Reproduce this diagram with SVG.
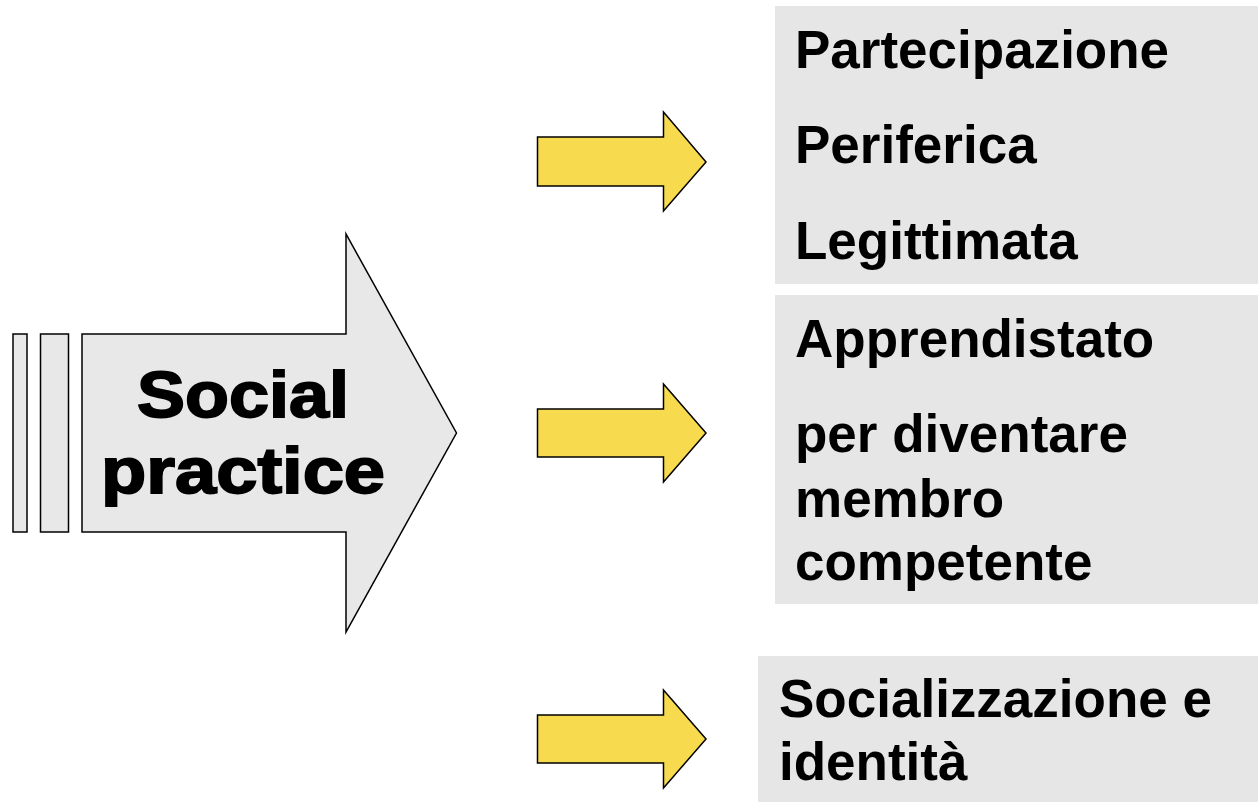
<svg xmlns="http://www.w3.org/2000/svg" width="1258" height="802" viewBox="0 0 1258 802">
<style>
.box{fill:#e6e6e6;stroke:none}
.big{fill:#e8e8e8;stroke:#000;stroke-width:1.5}
.ya{fill:#f8da4e;stroke:#000;stroke-width:1.5}
.t{font-family:"Liberation Sans",Arial,sans-serif;font-weight:bold;font-size:53px;fill:#000}
.bt{font-family:"Liberation Sans",Arial,sans-serif;font-weight:bold;font-size:64px;fill:#000;stroke:#000;stroke-width:1.8;text-anchor:middle}
</style>
<rect width="1258" height="802" fill="#fff"/>
<g id="social-practice">
<rect class="big" x="13" y="334" width="14" height="198"/>
<rect class="big" x="40.5" y="334" width="28" height="198"/>
<polygon class="big" points="82,334 346,334 346,234 456.5,433 346,632 346,532 82,532"/>
<text class="bt" x="243" y="417" textLength="212" lengthAdjust="spacingAndGlyphs">Social</text>
<text class="bt" x="243" y="493" textLength="284" lengthAdjust="spacingAndGlyphs">practice</text>
</g>
<g id="connectors">
<polygon class="ya" points="537.5,137 663.5,137 663.5,112 706,162 663.5,211 663.5,186 537.5,186"/>
<polygon class="ya" points="537.5,409 663.5,409 663.5,384 706,433 663.5,482 663.5,457 537.5,457"/>
<polygon class="ya" points="537.5,715 663.5,715 663.5,690 706,739 663.5,788 663.5,763 537.5,763"/>
</g>
<g id="lpp">
<rect class="box" x="775" y="6" width="483" height="278"/>
<text class="t" x="795" y="68">Partecipazione</text>
<text class="t" x="795" y="163">Periferica</text>
<text class="t" x="795" y="259">Legittimata</text>
</g>
<g id="apprendistato">
<rect class="box" x="775" y="295" width="483" height="309"/>
<text class="t" x="795" y="357">Apprendistato</text>
<text class="t" x="795" y="452">per diventare</text>
<text class="t" x="795" y="517">membro</text>
<text class="t" x="795" y="580">competente</text>
</g>
<g id="socializzazione">
<rect class="box" x="758" y="656" width="500" height="146"/>
<text class="t" x="779" y="717">Socializzazione e</text>
<text class="t" x="779" y="780">identità</text>
</g>
</svg>
